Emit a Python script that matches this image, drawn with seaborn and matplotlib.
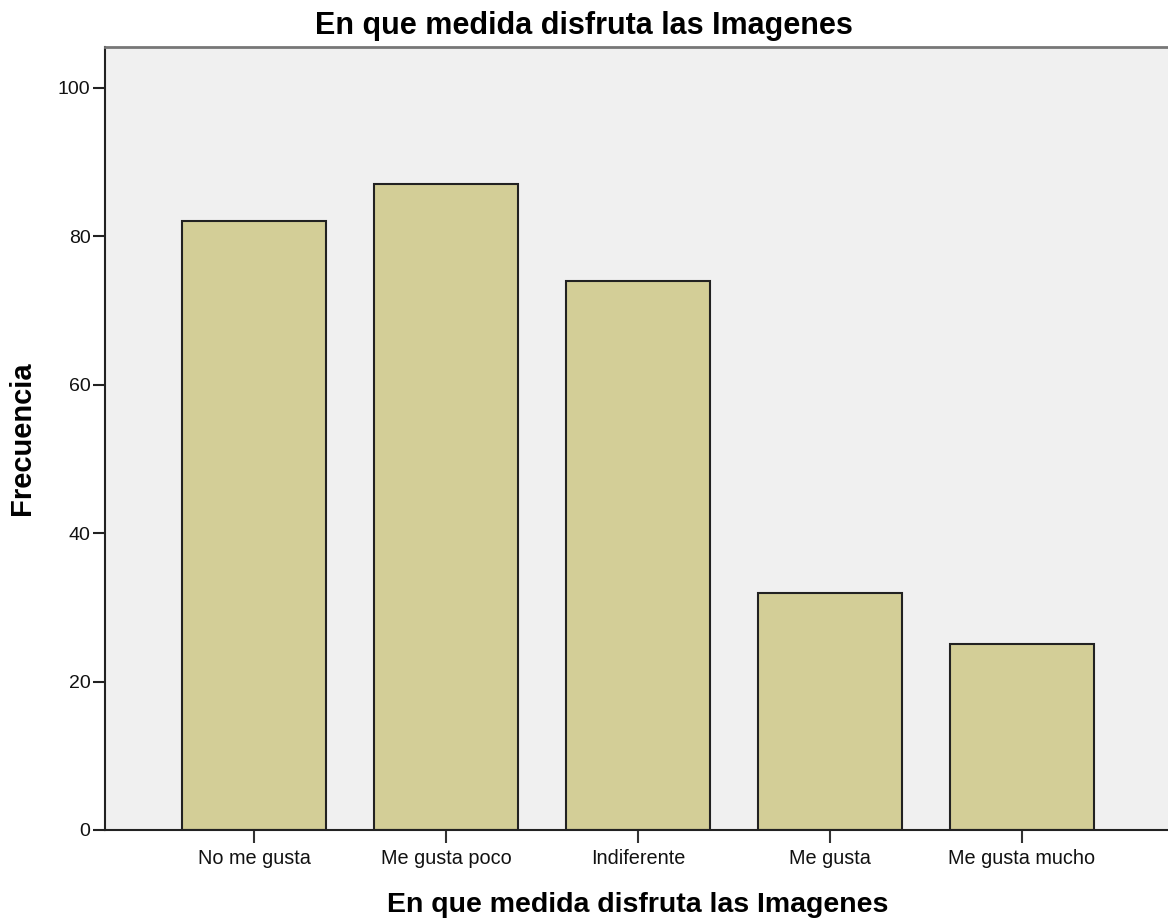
import matplotlib
matplotlib.use("Agg")
import matplotlib.pyplot as plt
import seaborn as sns
import pandas as pd

categories = ["No me gusta", "Me gusta poco", "Indiferente", "Me gusta", "Me gusta mucho"]
frecuencia = [82, 87, 74, 32, 25]
yticks = [0, 20, 40, 60, 80, 100]

df = pd.DataFrame({"cat": categories, "freq": frecuencia})

sns.set_theme(style="white")
plt.rcParams['font.family'] = ['Liberation Sans', 'DejaVu Sans']

W, H = 1168, 918
ax_left, ax_bottom, ax_top = 105, 830, 47
ax_w = W - ax_left + 12
ax_h = ax_bottom - ax_top
fig = plt.figure(figsize=(W/100, H/100), dpi=100)
ax = fig.add_axes([ax_left/W, (H-ax_bottom)/H, ax_w/W, ax_h/H])
ax.set_facecolor("#F0F0F0")

sns.barplot(data=df, x="cat", y="freq", order=categories, color="#D3CE97",
            saturation=1, width=0.75, edgecolor="#222222", linewidth=1.5, ax=ax)

ax.set_xlim(-0.776, -0.776 + ax_w/192.0)
ax.set_ylim(0, 105.5)
ax.set_yticks(yticks)
ax.set_yticklabels([str(v) for v in yticks], fontsize=14)
ax.set_xticklabels(categories, fontsize=14.3)
ax.tick_params(axis="y", direction="out", length=9, width=1.5,
               color="#222222", left=True, pad=1.5, labelcolor="#111111")
ax.tick_params(axis="x", direction="out", length=9, width=1.5,
               color="#333333", bottom=True, pad=5, labelcolor="#111111")

for s in ["left", "bottom"]:
    ax.spines[s].set_color("#222222")
    ax.spines[s].set_linewidth(1.5)
ax.spines["top"].set_color("#777777")
ax.spines["top"].set_linewidth(2)
ax.spines["right"].set_visible(False)

ax.set_xlabel("En que medida disfruta las Imagenes", fontsize=20.5, fontweight="bold",
              color="black")
ax.xaxis.set_label_coords((638 - ax_left)/ax_w, -(905 - ax_bottom)/ax_h)
ax.xaxis.label.set_verticalalignment("center")
ax.set_ylabel("Frecuencia", fontsize=21, fontweight="bold", color="black")
ax.yaxis.set_label_coords(-(ax_left - 22)/ax_w, 0.5)
ax.yaxis.label.set_verticalalignment("center")
ax.yaxis.label.set_horizontalalignment("center")

fig.text(584/W, 1 - 26/H, "En que medida disfruta las Imagenes", ha="center", va="center",
         fontsize=22, fontweight="bold", color="black")

fig.savefig("out.png", dpi=100)
